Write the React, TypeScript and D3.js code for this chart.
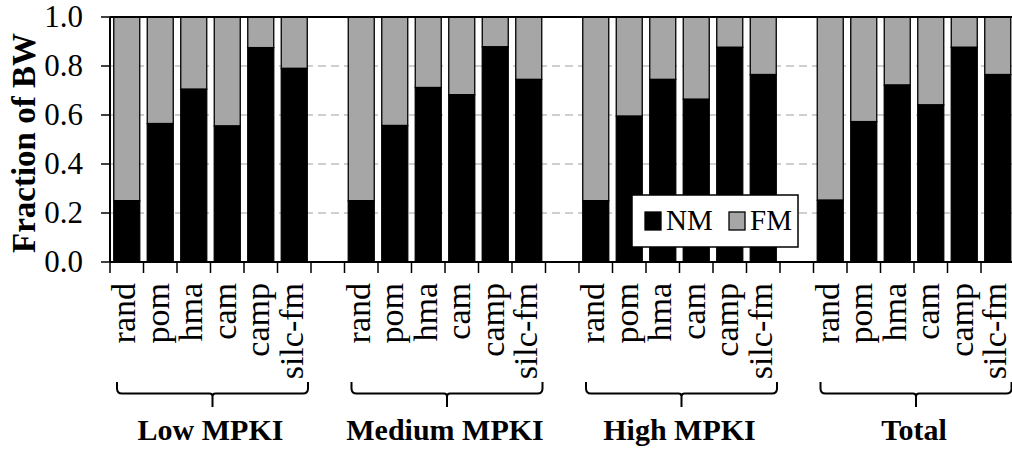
import React from "react";
import * as d3 from "d3";

// Bandwidth split between near memory (NM) and far memory (FM)
const groups = ["Low MPKI", "Medium MPKI", "High MPKI", "Total"];
const schemes = ["rand", "pom", "hma", "cam", "camp", "silc-fm"];
const nmLow = [0.25, 0.565, 0.705, 0.555, 0.875, 0.79];
const nmMedium = [0.25, 0.557, 0.712, 0.683, 0.878, 0.745];
const nmHigh = [0.25, 0.595, 0.745, 0.664, 0.876, 0.765];
const nmTotal = [0.252, 0.573, 0.722, 0.641, 0.876, 0.765];
const nmByGroup = [nmLow, nmMedium, nmHigh, nmTotal];
const yTicks = [0, 0.2, 0.4, 0.6, 0.8, 1.0];
const seriesNames = ["NM", "FM"];

const W = 1012;
const H = 449;
const NM_COLOR = "#000000";
const FM_COLOR = "#a6a6a6";
const SERIF = "Liberation Serif, Times New Roman, serif";

type Slot = { key: string; group: number; scheme: string | null; nm: number | null };

const slots: Slot[] = [];
groups.forEach((g, gi) => {
  schemes.forEach((s, si) => {
    slots.push({ key: `${g}|${s}`, group: gi, scheme: s, nm: nmByGroup[gi][si] });
  });
  if (gi < groups.length - 1) slots.push({ key: `gap${gi}`, group: gi, scheme: null, nm: null });
});

export default function App() {
  const left = 110;
  const top = 17;
  const bottom = 262;
  const right = left + 33.5 * slots.length;

  const x = d3.scaleBand<string>().domain(slots.map((d) => d.key)).range([left, right]).padding(0);
  const y = d3.scaleLinear().domain([0, 1]).range([bottom, top]);
  const bw = x.bandwidth();
  const barW = 26;

  const boundaries = d3.range(slots.length + 1).map((i) => left + i * bw);

  return (
    <svg
      width={W}
      height={H}
      fontFamily={SERIF}
      style={{ position: "absolute", left: 0, top: 0, background: "#fff", fontFamily: SERIF }}
    >
      {/* dashed gridlines */}
      {yTicks
        .filter((t) => t > 0 && t < 1)
        .map((t) => (
          <line key={`g${t}`} x1={left} x2={right} y1={y(t)} y2={y(t)} stroke="#c0c0c0" strokeWidth={1.5} strokeDasharray="8,5" />
        ))}

      {/* stacked bars */}
      {slots
        .filter((d) => d.nm !== null)
        .map((d) => {
          const bx = (x(d.key) as number) + (bw - barW) / 2;
          const nm = d.nm as number;
          return (
            <g key={d.key}>
              <rect x={bx} y={y(1)} width={barW} height={y(nm) - y(1)} fill={FM_COLOR} stroke="#000" strokeWidth={1.3} />
              <rect x={bx} y={y(nm)} width={barW} height={y(0) - y(nm)} fill={NM_COLOR} stroke="#000" strokeWidth={1.3} />
            </g>
          );
        })}

      {/* frame: top line, y axis, x axis */}
      <line x1={left} x2={right} y1={top} y2={top} stroke="#000" strokeWidth={2} />
      <line x1={left} x2={left} y1={top} y2={bottom} stroke="#000" strokeWidth={2} />
      <line x1={left} x2={right} y1={bottom} y2={bottom} stroke="#000" strokeWidth={2} />

      {/* y ticks and labels */}
      {yTicks.map((t) => (
        <g key={`yt${t}`}>
          <line x1={left - 9} x2={left} y1={y(t)} y2={y(t)} stroke="#000" strokeWidth={1.5} />
          <text x={83} y={y(t) + 10} textAnchor="end" fontSize={31} fill="#000" fontFamily={SERIF}>
            {d3.format(".1f")(t)}
          </text>
        </g>
      ))}
      <text
        transform={`translate(35, 143) rotate(-90)`}
        textAnchor="middle"
        fontSize={33}
        fontWeight="bold"
        fill="#000"
        fontFamily={SERIF}
      >
        Fraction of BW
      </text>

      {/* x ticks at slot boundaries */}
      {boundaries.map((bx, i) => (
        <line key={`xt${i}`} x1={bx} x2={bx} y1={bottom} y2={bottom + 11} stroke="#000" strokeWidth={1.5} />
      ))}

      {/* category labels */}
      {slots
        .filter((d) => d.scheme !== null)
        .map((d) => {
          const cx = (x(d.key) as number) + bw / 2 + 8.5;
          return (
            <text
              key={`cl${d.key}`}
              transform={`translate(${cx}, 283) rotate(-90)`}
              textAnchor="end"
              fontSize={34}
              fill="#000"
              fontFamily={SERIF}
            >
              {d.scheme}
            </text>
          );
        })}

      {/* group braces and names */}
      {groups.map((g) => {
        const first = x(`${g}|${schemes[0]}`) as number;
        const last = (x(`${g}|${schemes[schemes.length - 1]}`) as number) + bw;
        const x1 = first + 7;
        const x2 = last - 3;
        const cx = (x1 + x2) / 2;
        const yTop = 382;
        const yMid = 393.5;
        const yTip = 407;
        const r = 5;
        const path = [
          `M${x1},${yTop}`,
          `L${x1},${yMid - r}`,
          `Q${x1},${yMid} ${x1 + r},${yMid}`,
          `L${cx - 3},${yMid}`,
          `Q${cx},${yMid} ${cx},${yMid + 3}`,
          `L${cx},${yTip}`,
          `M${cx},${yMid + 3}`,
          `Q${cx},${yMid} ${cx + 3},${yMid}`,
          `L${x2 - r},${yMid}`,
          `Q${x2},${yMid} ${x2},${yMid - r}`,
          `L${x2},${yTop}`,
        ].join(" ");
        const labelX = (first + last) / 2;
        return (
          <g key={`grp${g}`}>
            <path d={path} fill="none" stroke="#000" strokeWidth={2} />
            <text x={labelX} y={440} textAnchor="middle" fontSize={30} fontWeight="bold" fill="#000" fontFamily={SERIF}>
              {g}
            </text>
          </g>
        );
      })}

      {/* legend */}
      <g>
        <rect x={632} y={195} width={166} height={52} fill="#fff" stroke="#000" strokeWidth={1.5} />
        {seriesNames.map((name, i) => {
          const lx = 645 + i * 84;
          return (
            <g key={`lg${name}`}>
              <rect x={lx} y={212} width={16} height={18} fill={i === 0 ? NM_COLOR : FM_COLOR} stroke="#000" strokeWidth={1.3} />
              <text x={lx + 21} y={230} fontSize={29} fill="#000" fontFamily={SERIF}>
                {name}
              </text>
            </g>
          );
        })}
      </g>
    </svg>
  );
}
